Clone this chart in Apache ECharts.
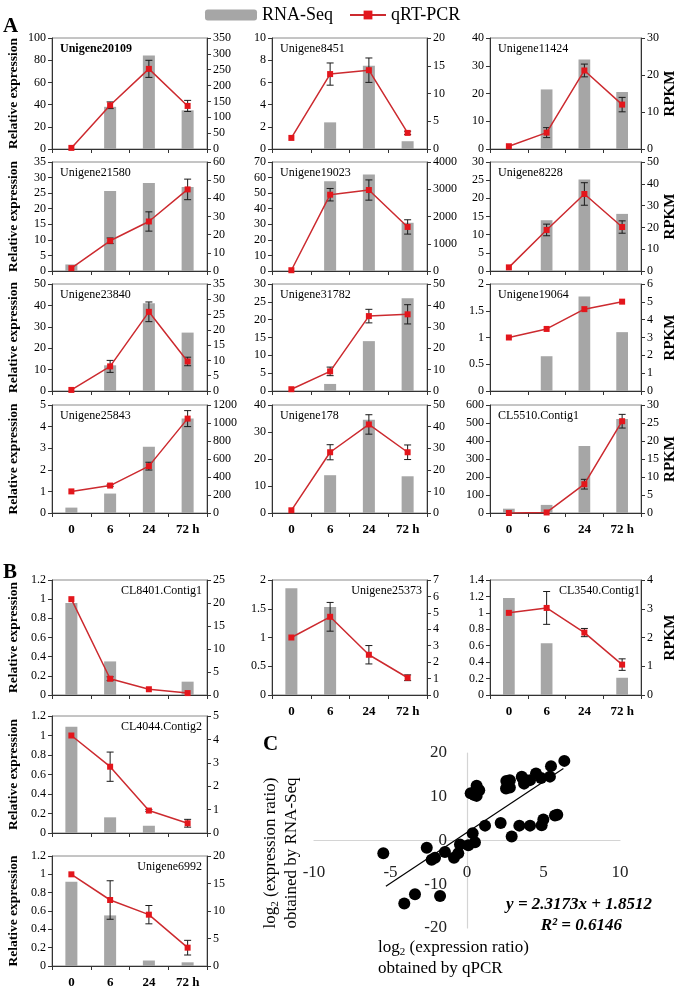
<!DOCTYPE html>
<html><head><meta charset="utf-8">
<script src="https://cdn.jsdelivr.net/npm/echarts@6/dist/echarts.min.js"></script>
<style>html,body{margin:0;padding:0;background:#fff}#c{width:679px;height:992px}</style>
</head><body><div id="c"></div>
<script>
// ---------- DATA ----------
const categories = ['0', '6', '24', '72 h'];
const geneNames = ['Unigene20109','Unigene8451','Unigene11424','Unigene21580','Unigene19023','Unigene8228',
  'Unigene23840','Unigene31782','Unigene19064','Unigene25843','Unigene178','CL5510.Contig1',
  'CL8401.Contig1','Unigene25373','CL3540.Contig1','CL4044.Contig2','Unigene6992'];
// qRT-PCR relative expression (left axis)
const qpcrMean = [
  [1, 39.4, 72.2, 38.8], [1.0, 6.75, 7.1, 1.45], [1.0, 5.9, 28.3, 16.0],
  [0.9, 9.7, 15.9, 26.2], [0.5, 49, 52, 28.3], [1.0, 11.3, 21.2, 12.1],
  [0.5, 11.5, 37, 13.8], [0.5, 5.5, 21, 21.5], [1.0, 1.16, 1.53, 1.67],
  [1.0, 1.27, 2.17, 4.37], [1.0, 22.5, 32.8, 22.5], [0, 3, 160, 510],
  [1.0, 0.17, 0.06, 0.02], [1.0, 1.36, 0.7, 0.3], [1.0, 1.06, 0.76, 0.37],
  [1.0, 0.68, 0.23, 0.1], [1.0, 0.72, 0.56, 0.2]
];
// error bar half-widths
const qpcrError = [
  [0, 3, 7.7, 5], [0, 1.0, 1.1, 0.15], [0, 1.8, 2.3, 2.6],
  [0, 0.9, 3.1, 3.3], [0, 4, 6.5, 4.6], [0, 1.6, 3.1, 1.7],
  [0, 2.8, 4.6, 2], [0, 1.2, 1.9, 2.7], [0, 0, 0, 0],
  [0, 0.04, 0.18, 0.37], [0, 2.8, 3.6, 2.7], [0, 0, 27, 38],
  [0, 0.02, 0, 0], [0, 0.25, 0.16, 0.05], [0, 0.2, 0.05, 0.07],
  [0, 0.15, 0.01, 0.04], [0, 0.21, 0.1, 0.08]
];
// RNA-Seq RPKM (right axis)
const rnaSeqRpkm = [
  [0, 133, 295, 122], [0, 4.8, 15, 1.4], [0, 16.1, 24.2, 15.4],
  [3.6, 44, 48.5, 46.3], [0, 3290, 3540, 1770], [0, 23.3, 42, 26.2],
  [0, 8.4, 28.7, 19.1], [0, 3.3, 23.3, 43.3], [0, 1.95, 5.3, 3.3],
  [60, 216, 737, 1050], [0, 17.5, 43.2, 17], [1.2, 2.25, 18.6, 26.1],
  [20, 7.3, 0, 2.9], [6.5, 5.36, 0, 0], [3.37, 1.8, 0, 0.6],
  [4.54, 0.67, 0.31, 0], [15.3, 9.2, 1.0, 0.67]
];
const leftAxisMax  = [100, 10, 40, 35, 70, 30, 50, 30, 2, 5, 40, 600, 1.2, 2, 1.4, 1.2, 1.2];
const leftAxisStep = [20, 2, 10, 5, 10, 5, 10, 5, 0.5, 1, 10, 100, 0.2, 0.5, 0.2, 0.2, 0.2];
const rightAxisMax  = [350, 20, 30, 60, 4000, 50, 35, 50, 6, 1200, 50, 30, 25, 7, 4, 5, 20];
const rightAxisStep = [50, 5, 10, 10, 1000, 10, 5, 10, 1, 200, 10, 5, 5, 1, 1, 1, 5];

// Panel C scatter: log2 ratios
const scatterQpcr = [-5.47,-2.63,-2.31,-2.09,-1.44,-0.85,-0.57,-0.46,0.09,0.52,0.37,1.18,2.2,2.92,3.42,4.12,4.88,4.99,5.75,5.9,
  0.24,0.48,0.63,0.8,0.63,0.63,2.55,2.8,2.8,2.57,3.64,3.73,4.12,4.51,4.84,5.42,5.49,6.36,3.58,-4.1,-3.4,-1.76];
const scatterRnaSeq = [-2.9,-1.67,-4.4,-3.94,-2.65,-3.94,-2.9,-0.9,-1.1,-0.38,1.67,3.4,4.0,0.9,3.4,3.4,3.5,4.8,5.7,5.9,
  10.8,10.4,11.9,11.5,10.2,12.5,11.9,12.1,13.8,13.6,14.2,13.0,13.8,15.3,14.3,14.6,17.0,18.2,14.6,-14.4,-12.3,-12.7];
const trendX = [-5.3, 6.3];
const trendY = [-10.43, 16.45];
const scatterXTicks = [-10, 10, 5];
const scatterYTicks = [-20, 20, 10];

// ---------- LAYOUT ----------
const FONT = "'Liberation Serif','Times New Roman',serif";
const colX = [52, 272, 490];
const plotW = 155;
const rowsY = [[38,149],[162,271],[284,391],[405,513],[580,695],[716,833],[856,966]];
const cells = [[0,0],[0,1],[0,2],[1,0],[1,1],[1,2],[2,0],[2,1],[2,2],[3,0],[3,1],[3,2],[4,0],[4,1],[4,2],[5,0],[6,0]];
const xLabelPanels = [9,10,11,13,14,16];
const fmt = v => String(Math.round(v * 1000) / 1000);

const grids = [], xAxes = [], yAxes = [], series = [], graphics = [];
const axisCol = '#333';

function renderErr(params, api) {
  const idx = api.value(0), lo = api.value(1), hi = api.value(2);
  const a = api.coord([idx, hi]), b = api.coord([idx, lo]);
  const w = 3.5, st = {stroke: '#1a1a1a', lineWidth: 1};
  return {type: 'group', children: [
    {type: 'line', shape: {x1: a[0], y1: a[1], x2: b[0], y2: b[1]}, style: st},
    {type: 'line', shape: {x1: a[0]-w, y1: a[1], x2: a[0]+w, y2: a[1]}, style: st},
    {type: 'line', shape: {x1: b[0]-w, y1: b[1], x2: b[0]+w, y2: b[1]}, style: st}
  ]};
}

geneNames.forEach((name, i) => {
  const [r, c] = cells[i];
  const left = colX[c], top = rowsY[r][0], h = rowsY[r][1] - rowsY[r][0];
  grids.push({left: left, top: top, width: plotW, height: h, show: true, borderColor: '#8a8a8a', borderWidth: 1, containLabel: false});
  const showX = xLabelPanels.indexOf(i) >= 0;
  xAxes.push({type: 'category', gridIndex: i, data: categories, boundaryGap: true,
    axisLine: {lineStyle: {color: axisCol, width: 1}},
    axisTick: {show: true, length: 4, lineStyle: {color: axisCol}},
    axisLabel: {show: showX, fontFamily: FONT, fontSize: 13, fontWeight: 'bold', color: '#000', margin: 10},
    splitLine: {show: false}});
  yAxes.push({type: 'value', gridIndex: i, position: 'left', min: 0, max: leftAxisMax[i], interval: leftAxisStep[i],
    name: c === 0 ? 'Relative expression' : '', nameLocation: 'middle', nameGap: 31,
    nameTextStyle: {fontFamily: FONT, fontSize: 13.5, fontWeight: 'bold', color: '#000'},
    axisLine: {show: true, lineStyle: {color: axisCol}},
    axisTick: {show: true, length: 4, lineStyle: {color: axisCol}},
    axisLabel: {fontFamily: FONT, fontSize: 12, color: '#000', margin: 6, formatter: fmt},
    splitLine: {show: false}});
  yAxes.push({type: 'value', gridIndex: i, position: 'right', min: 0, max: rightAxisMax[i], interval: rightAxisStep[i],
    name: c === 2 ? 'RPKM' : '', nameLocation: 'middle', nameGap: 22,
    nameTextStyle: {fontFamily: FONT, fontSize: 15, fontWeight: 'bold', color: '#000'},
    axisLine: {show: true, lineStyle: {color: axisCol}},
    axisTick: {show: true, length: 4, lineStyle: {color: axisCol}},
    axisLabel: {fontFamily: FONT, fontSize: 12, color: '#000', margin: 6, formatter: fmt},
    splitLine: {show: false}});
  series.push({type: 'bar', name: 'RNA-Seq', xAxisIndex: i, yAxisIndex: 2*i+1, data: rnaSeqRpkm[i],
    barWidth: '31%', itemStyle: {color: '#a6a6a6'}, z: 1, silent: true});
  const errData = [];
  qpcrMean[i].forEach((m, k) => { const e = qpcrError[i][k]; if (e > 0) errData.push([k, m - e, m + e]); });
  series.push({type: 'custom', name: 'err' + i, xAxisIndex: i, yAxisIndex: 2*i, data: errData,
    encode: {x: 0, y: [1, 2]}, renderItem: renderErr, z: 3, silent: true});
  series.push({type: 'line', name: 'qRT-PCR', xAxisIndex: i, yAxisIndex: 2*i, data: qpcrMean[i],
    symbol: 'rect', symbolSize: 6, lineStyle: {color: '#cc2a2f', width: 1.5},
    itemStyle: {color: '#e3161c'}, z: 4, silent: true});
  // panel title
  const isB = i >= 12;
  graphics.push({type: 'text', x: isB ? left + plotW - 5 : left + 8, y: top + 11,
    style: {text: name, font: (i === 0 ? 'bold ' : '') + '12px ' + FONT, fill: '#000',
      align: isB ? 'right' : 'left', verticalAlign: 'middle'}});
});

// Scatter panel C (axes crossing at the origin)
const gi = geneNames.length;
const sLeft = 314, sTop = 753, sW = 306, sH = 175;
grids.push({left: sLeft, top: sTop, width: sW, height: sH, show: false});
const zeroY = sTop + sH * (scatterYTicks[1] / (scatterYTicks[1] - scatterYTicks[0]));
const zeroX = sLeft + sW * (-scatterXTicks[0] / (scatterXTicks[1] - scatterXTicks[0]));
xAxes.push({type: 'value', gridIndex: gi, position: 'bottom', offset: -(sTop + sH - zeroY),
  min: scatterXTicks[0], max: scatterXTicks[1], interval: scatterXTicks[2],
  axisLine: {onZero: false, lineStyle: {color: '#d4d4d4', width: 1.2}}, axisTick: {show: false},
  axisLabel: {fontFamily: FONT, fontSize: 17, color: '#222', margin: 24}, splitLine: {show: false}});
yAxes.push({type: 'value', gridIndex: gi, position: 'left', offset: -(zeroX - sLeft),
  min: scatterYTicks[0], max: scatterYTicks[1], interval: scatterYTicks[2],
  axisLine: {show: true, onZero: false, lineStyle: {color: '#d4d4d4', width: 1.2}}, axisTick: {show: false},
  axisLabel: {fontFamily: FONT, fontSize: 17, color: '#222', margin: 20}, splitLine: {show: false}});
series.push({type: 'scatter', xAxisIndex: gi, yAxisIndex: 2*gi, symbolSize: 12,
  data: scatterQpcr.map((x, k) => [x, scatterRnaSeq[k]]), itemStyle: {color: '#000', opacity: 1}, z: 3, silent: true});
series.push({type: 'line', xAxisIndex: gi, yAxisIndex: 2*gi, data: trendX.map((x, k) => [x, trendY[k]]),
  symbol: 'none', lineStyle: {color: '#000', width: 1.2}, z: 4, silent: true});

graphics.push(
  {type: 'text', x: 3, y: 27, style: {text: 'A', font: 'bold 21px ' + FONT, fill: '#000', verticalAlign: 'middle'}},
  {type: 'text', x: 3, y: 573, style: {text: 'B', font: 'bold 21px ' + FONT, fill: '#000', verticalAlign: 'middle'}},
  {type: 'text', x: 263, y: 745, style: {text: 'C', font: 'bold 21px ' + FONT, fill: '#000', verticalAlign: 'middle'}},
  {type: 'text', x: 281, y: 853, rotation: Math.PI / 2,
    style: {text: 'log{s|2} (expression ratio)\nobtained by RNA-Seq', align: 'center', verticalAlign: 'middle',
      font: '17px ' + FONT, fill: '#000', lineHeight: 21,
      rich: {s: {fontSize: 11, fontFamily: FONT, verticalAlign: 'bottom', padding: [8, 0, 0, 0]}}}},
  {type: 'text', x: 378, y: 937,
    style: {text: 'log{s|2} (expression ratio)\nobtained by qPCR', align: 'left', verticalAlign: 'top',
      font: '17px ' + FONT, fill: '#000', lineHeight: 21,
      rich: {s: {fontSize: 11, fontFamily: FONT, verticalAlign: 'bottom', padding: [8, 0, 0, 0]}}}},
  {type: 'text', x: 652, y: 905, style: {text: 'y = 2.3173x + 1.8512', align: 'right', verticalAlign: 'middle',
    font: 'italic bold 17px ' + FONT, fill: '#000'}},
  {type: 'text', x: 622, y: 926, style: {text: 'R² = 0.6146', align: 'right', verticalAlign: 'middle',
    font: 'italic bold 17px ' + FONT, fill: '#000'}}
);

const chart = echarts.init(document.getElementById('c'), null, {renderer: 'canvas'});
chart.setOption({
  animation: false,
  backgroundColor: '#fff',
  legend: [
    {data: ['RNA-Seq'], left: 200, top: 1, itemWidth: 52, itemHeight: 11, selectedMode: false,
      textStyle: {fontFamily: FONT, fontSize: 18, color: '#000'}},
    {data: ['qRT-PCR'], left: 344, top: 1, itemWidth: 36, itemHeight: 11, selectedMode: false,
      textStyle: {fontFamily: FONT, fontSize: 18, color: '#000'}}
  ],
  grid: grids, xAxis: xAxes, yAxis: yAxes, series: series, graphic: graphics
});
</script></body></html>
